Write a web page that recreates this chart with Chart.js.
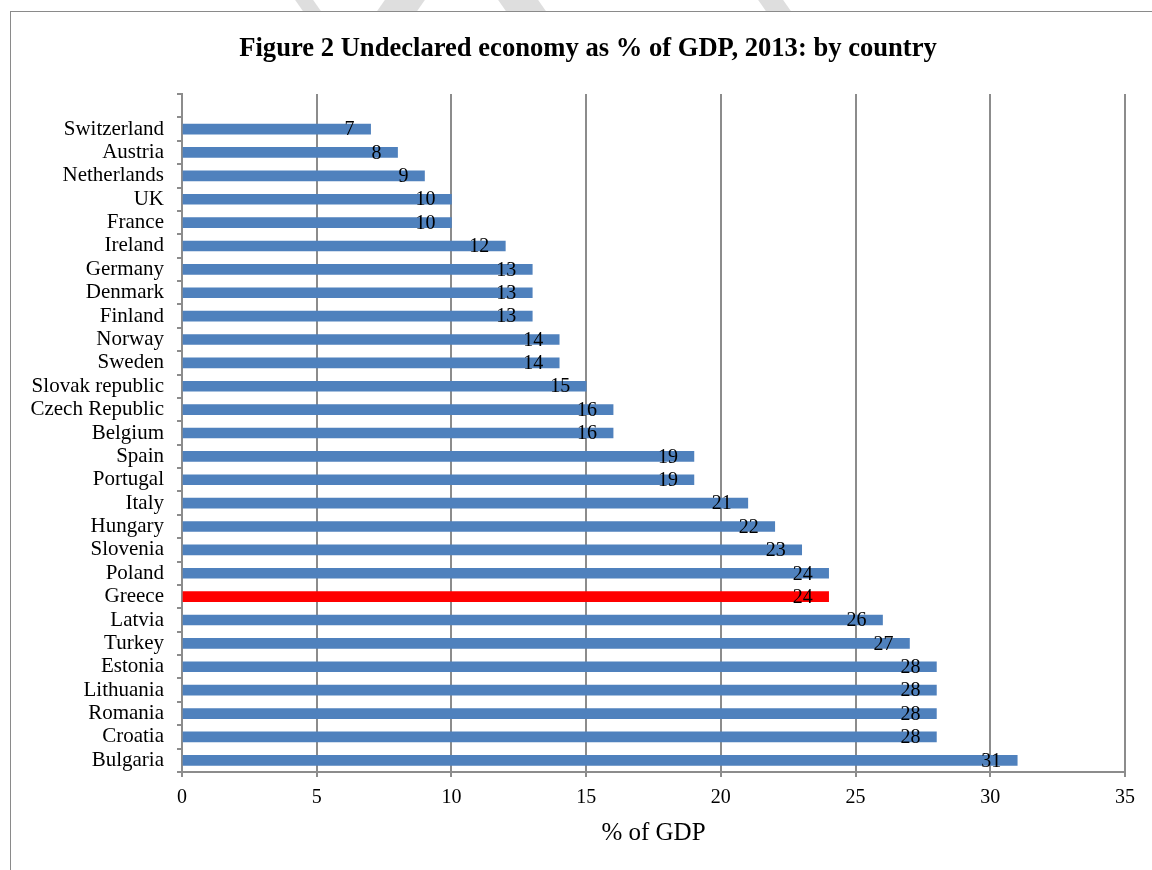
<!DOCTYPE html>
<html>
<head>
<meta charset="utf-8">
<script src="https://cdn.jsdelivr.net/npm/chart.js@4"></script>
<style>
  body { margin: 0; background: #fff; }
  #wrap { position: relative; width: 1152px; height: 870px; overflow: hidden; background: #fff; }
  #frame { position: absolute; left: 10px; top: 11px; width: 1300px; height: 1000px; border: 1px solid #8a8a8a; background: #fff; }
  .wm { position: absolute; top: -20px; height: 31px; background: #dedede; transform: skewX(35deg); }
  canvas { position: absolute; left: 0; top: 0; }
</style>
</head>
<body>
<div id="wrap">
  <div class="wm" style="left:292px;width:18px"></div>
  <div class="wm" style="left:388px;width:40px;transform:skewX(-35deg)"></div>
  <div class="wm" style="left:495px;width:40px"></div>
  <div class="wm" style="left:755px;width:25px"></div>
  <div id="frame"></div>
  <canvas id="chart" width="1152" height="870"></canvas>
</div>
<script>
// top slot is empty in the original chart
const countries = ['', 'Switzerland', 'Austria', 'Netherlands', 'UK', 'France', 'Ireland', 'Germany',
  'Denmark', 'Finland', 'Norway', 'Sweden', 'Slovak republic', 'Czech Republic', 'Belgium',
  'Spain', 'Portugal', 'Italy', 'Hungary', 'Slovenia', 'Poland', 'Greece', 'Latvia', 'Turkey',
  'Estonia', 'Lithuania', 'Romania', 'Croatia', 'Bulgaria'];
const gdpShare = [null, 7, 8, 9, 10, 10, 12, 13, 13, 13, 14, 14, 15, 16, 16,
  19, 19, 21, 22, 23, 24, 24, 26, 27, 28, 28, 28, 28, 31];
const xTicks = [0, 5, 10, 15, 20, 25, 30, 35];
const chartTitle = 'Figure 2 Undeclared economy as % of GDP, 2013: by country';

const barColors = countries.map(c => c === 'Greece' ? '#ff0000' : '#4f81bd');
const serif = "'Liberation Serif', 'Times New Roman', serif";
const axisGrey = '#8c8c8c';

// value labels at the inner end of each bar + the title (centred like the original)
const extraText = {
  id: 'extraText',
  afterDraw(chart) {
    const ctx = chart.ctx;
    const meta = chart.getDatasetMeta(0);
    ctx.save();
    ctx.fillStyle = '#000';
    ctx.textBaseline = 'middle';
    ctx.font = 'bold 26.6px ' + serif;
    ctx.textAlign = 'center';
    ctx.fillText(chartTitle, 588, 49);
    ctx.font = '20px ' + serif;
    ctx.textAlign = 'right';
    meta.data.forEach((bar, i) => {
      const v = gdpShare[i];
      if (v === null) return;
      ctx.fillText(String(v), bar.x - 16, bar.y + 1);
    });
    ctx.restore();
  }
};

new Chart(document.getElementById('chart').getContext('2d'), {
  type: 'bar',
  data: {
    labels: countries,
    datasets: [{
      data: gdpShare,
      backgroundColor: barColors,
      barThickness: 10
    }]
  },
  options: {
    indexAxis: 'y',
    responsive: false,
    animation: false,
    layout: { padding: { left: 0, right: 27, top: 94, bottom: 0 } },
    plugins: {
      legend: { display: false },
      tooltip: { enabled: false },
      title: { display: false }
    },
    scales: {
      x: {
        min: 0,
        max: 35,
        afterBuildTicks: axis => { axis.ticks = xTicks.map(v => ({ value: v })); },
        afterFit: axis => { axis.height = 98; },
        ticks: { color: '#000', font: { family: serif, size: 20 }, padding: 9 },
        grid: { color: axisGrey, lineWidth: 2, tickLength: 5 },
        border: { color: axisGrey, width: 2 },
        title: {
          display: true,
          text: '% of GDP',
          color: '#000',
          font: { family: serif, size: 25 },
          padding: { top: 0, bottom: 22 }
        }
      },
      y: {
        afterFit: axis => { axis.width = 182; },
        ticks: { color: '#000', font: { family: serif, size: 21 }, autoSkip: false, padding: 13 },
        grid: { drawOnChartArea: false, drawTicks: true, tickLength: 5, color: axisGrey, lineWidth: 2 },
        border: { color: axisGrey, width: 2 }
      }
    }
  },
  plugins: [extraText]
});
</script>
</body>
</html>
